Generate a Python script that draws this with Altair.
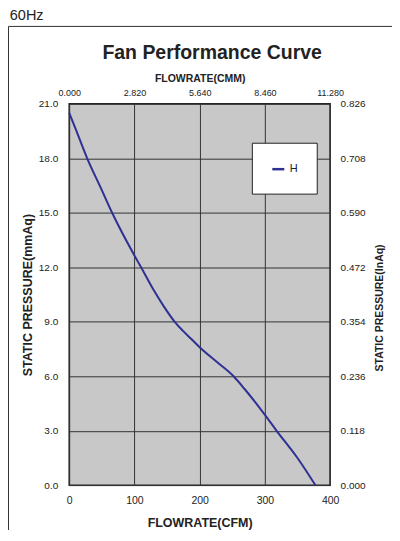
import altair as alt
import pandas as pd

# Curve (flow in CFM, static pressure in mmAq)
cfm = [0, 10, 27.6, 50, 65.8, 100, 110.2, 128.6, 145, 161.8, 174.5, 187.3, 200, 225.6, 252, 268.9, 300, 318, 350, 377.5]
mmaq = [20.5, 19.6, 18.0, 16.25, 15.0, 12.65, 12.0, 10.8, 9.85, 9.0, 8.5, 8.05, 7.6, 6.81, 6.0, 5.3, 3.88, 3.0, 1.5, 0.0]
series = ["H"] * len(cfm)

cfm_ticks = [0, 100, 200, 300, 400]
cmm_ticks = [0, 2.82, 5.64, 8.46, 11.28]
mmaq_ticks = [0, 3, 6, 9, 12, 15, 18, 21]
inaq_ticks = [0, 0.118, 0.236, 0.354, 0.472, 0.590, 0.708, 0.826]
freq_label = ["60Hz"]
chart_title = ["Fan Performance Curve"]

df = pd.DataFrame({"cfm": cfm, "mmaq": mmaq, "series": series})
df["cmm"] = df["cfm"] * 11.28 / 400
df["inaq"] = df["mmaq"] * 0.826 / 21

FONT = "Liberation Sans"
TXT = "#222222"
W, H = 261.4, 382.2
PL, PT = 61.3, 95.5

base = alt.Chart(df)

main = base.mark_line(strokeWidth=2, interpolate="monotone").encode(
    x=alt.X("cfm:Q", scale=alt.Scale(domain=[0, 400], nice=False),
            axis=alt.Axis(orient="bottom", values=cfm_ticks, format="d", title="FLOWRATE(CFM)",
                          grid=True, gridColor="#333333", gridWidth=1, ticks=False, domain=False,
                          labelFlush=False, labelOverlap=False,
                          labelFont=FONT, labelFontSize=10.5, labelColor=TXT, labelPadding=10,
                          titleFont=FONT, titleFontSize=12.5, titleFontWeight="bold", titleColor=TXT,
                          titlePadding=11)),
    y=alt.Y("mmaq:Q", scale=alt.Scale(domain=[0, 21], nice=False),
            axis=alt.Axis(orient="left", values=mmaq_ticks, format=".1f", title="STATIC PRESSURE(mmAq)",
                          grid=True, gridColor="#333333", gridWidth=1, ticks=False, domain=False,
                          labelOverlap=False,
                          labelFont=FONT, labelFontSize=10, labelColor=TXT, labelPadding=11.5,
                          titleFont=FONT, titleFontSize=12.5, titleFontWeight="bold", titleColor=TXT,
                          titlePadding=4)),
    color=alt.Color("series:N", scale=alt.Scale(range=["#2e3192"]),
                    legend=alt.Legend(title=None, orient="none", legendX=183, legendY=39,
                                      symbolType="stroke", symbolSize=144, symbolStrokeWidth=2.5,
                                      labelFont=FONT, labelFontSize=11, labelColor=TXT,
                                      fillColor="white", strokeColor="#222222", padding=19)),
)

sec = base.mark_line(opacity=0).encode(
    x=alt.X("cmm:Q", scale=alt.Scale(domain=[0, 11.28], nice=False),
            axis=alt.Axis(orient="top", values=cmm_ticks, format=".3f", title="FLOWRATE(CMM)",
                          grid=False, ticks=False, domain=False, labelFlush=False, labelOverlap=False,
                          labelFont=FONT, labelFontSize=9, labelColor=TXT, labelPadding=6.5,
                          titleFont=FONT, titleFontSize=10.5, titleFontWeight="bold", titleColor=TXT,
                          titlePadding=4.5)),
    y=alt.Y("inaq:Q", scale=alt.Scale(domain=[0, 0.826], nice=False),
            axis=alt.Axis(orient="right", values=inaq_ticks, format=".3f", title="STATIC PRESSURE(InAq)",
                          grid=False, ticks=False, domain=False, labelOverlap=False,
                          labelFont=FONT, labelFontSize=10, labelColor=TXT, labelPadding=10,
                          titleFont=FONT, titleFontSize=10.5, titleFontWeight="bold", titleColor=TXT,
                          titleAngle=270, titleAlign="center", titleBaseline="middle",
                          titleX=49.3, titleY=204)),
)

one = alt.Chart(pd.DataFrame({"label": freq_label, "title": chart_title}))
frame = one.mark_rect(fillOpacity=0, stroke="#333333", strokeWidth=1).encode(
    x=alt.value(-60.8), x2=alt.value(400), y=alt.value(-77.5), y2=alt.value(600)
)
freq = one.mark_text(align="left", baseline="alphabetic", font=FONT, fontSize=14.5, color=TXT).encode(
    text="label:N", x=alt.value(-59.5), y=alt.value(-84)
)
head = one.mark_text(align="center", baseline="alphabetic", font=FONT, fontSize=19.5,
                     fontWeight="bold", color=TXT).encode(
    text="title:N", x=alt.value(143.2), y=alt.value(-44.5)
)

chart = alt.layer(frame, freq, head, main, sec).resolve_scale(
    x="independent", y="independent"
).properties(
    width=W, height=H,
    autosize=alt.AutoSizeParams(type="none"),
    padding={"left": PL, "top": PT, "right": 62, "bottom": 44},
).configure_view(
    fill="#c8c8c8", stroke="#222222", strokeWidth=1.5
)

chart.save("out.html", embed_options={"renderer": "svg", "actions": False})
